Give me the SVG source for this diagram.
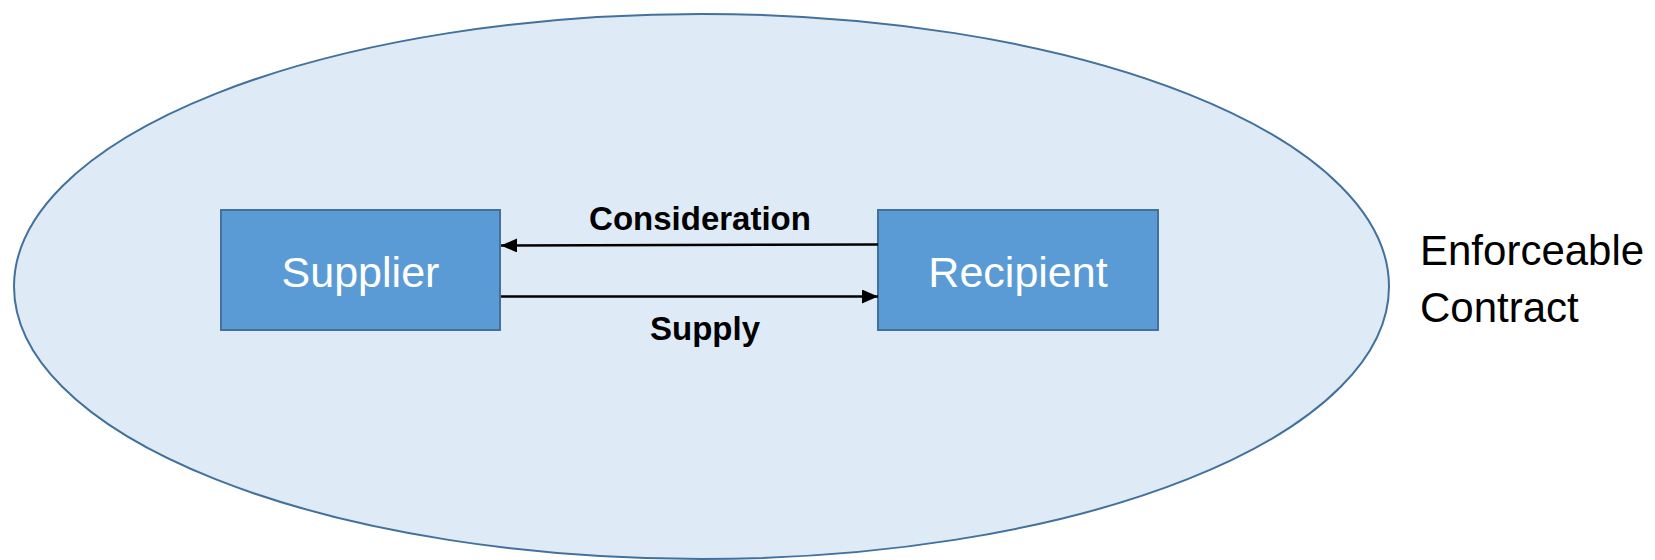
<svg xmlns="http://www.w3.org/2000/svg" width="1655" height="560" viewBox="0 0 1655 560">
<defs>
<style>
.node{fill:#5B9BD5;stroke:#41719C;stroke-width:2}
.ntext{font-family:"Liberation Sans",Arial,sans-serif;font-size:43px;fill:#ffffff;text-anchor:middle}
.lbl{font-family:"Liberation Sans",Arial,sans-serif;font-size:33px;font-weight:bold;fill:#000000;text-anchor:middle}
.conn{stroke:#000000;stroke-width:2.5;fill:none}
.side{font-family:"Liberation Sans",Arial,sans-serif;font-size:42px;fill:#000000}
</style>
<marker id="arrow" markerUnits="userSpaceOnUse" markerWidth="16" markerHeight="14" refX="16" refY="7" orient="auto">
<path d="M0,0 L16,7 L0,14 Z" fill="#000000"/>
</marker>
</defs>
<rect width="1655" height="560" fill="#ffffff"/>
<g id="contract">
<ellipse cx="701.5" cy="286.5" rx="687.5" ry="272.5" fill="#DEEAF6" stroke="#41719C" stroke-width="2"/>
</g>
<g id="supplier">
<rect class="node" x="221" y="210" width="279" height="120"/>
<text class="ntext" x="360.5" y="287">Supplier</text>
</g>
<g id="recipient">
<rect class="node" x="878" y="210" width="280" height="120"/>
<text class="ntext" x="1018" y="287">Recipient</text>
</g>
<g id="connectors">
<line class="conn" x1="878" y1="244.5" x2="501" y2="245.5" marker-end="url(#arrow)"/>
<line class="conn" x1="501" y1="296.5" x2="878" y2="296.5" marker-end="url(#arrow)"/>
<text class="lbl" x="700" y="230">Consideration</text>
<text class="lbl" x="705" y="340">Supply</text>
</g>
<g id="label">
<text class="side" x="1420" y="265">Enforceable</text>
<text class="side" x="1420" y="322">Contract</text>
</g>
</svg>
